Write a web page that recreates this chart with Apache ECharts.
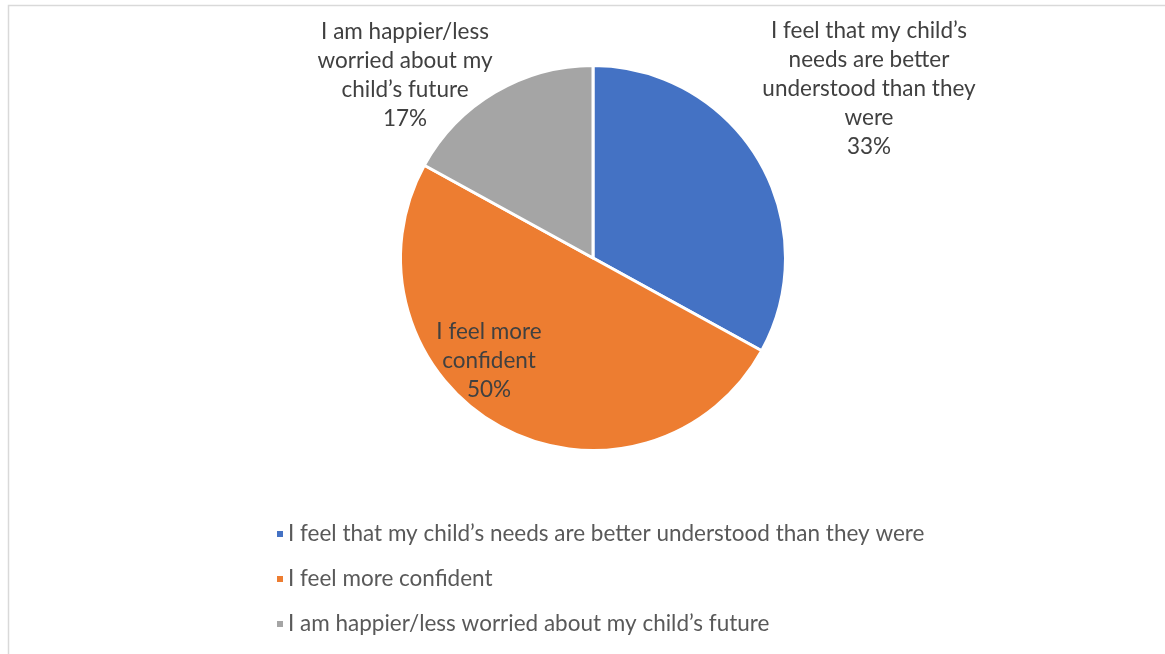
<!DOCTYPE html>
<html>
<head>
<meta charset="utf-8">
<script src="https://cdn.jsdelivr.net/npm/echarts@6/dist/echarts.min.js"></script>
<style>
  html, body { margin: 0; padding: 0; background: #fff; }
  #chart { width: 1165px; height: 654px; }
</style>
</head>
<body>
<div id="chart"></div>
<script>
// Survey responses (share of parents, %)
const categories = [
  'I feel that my child\u2019s needs are better understood than they were',
  'I feel more confident',
  'I am happier/less worried about my child\u2019s future'
];
const values = [33, 50, 17];
// Wrapped text used for the slice labels
const sliceLabels = [
  'I feel that my child\u2019s\nneeds are better\nunderstood than they\nwere',
  'I feel more\nconfident',
  'I am happier/less\nworried about my\nchild\u2019s future'
];
const colors = ['#4472C4', '#ED7D31', '#A5A5A5'];

const FONT = 'Lato';
const FONT_SIZE = 22.5;
// Label anchor points (centre of each text block)
const labelSpots = [
  { x: 869, y: 89 },
  { x: 489, y: 361 },
  { x: 405, y: 75 }
];

const chart = echarts.init(document.getElementById('chart'), null, { renderer: 'canvas' });
chart.setOption({
  animation: false,
  color: colors,
  graphic: [{
    type: 'rect',
    shape: { x: 8.5, y: 5.5, width: 1170, height: 660 },
    style: { fill: 'none', stroke: '#D9D9D9', lineWidth: 1.5 },
    silent: true
  }],
  legend: {
    orient: 'vertical',
    left: 270,
    top: 517,
    itemWidth: 8,
    itemHeight: 8,
    itemGap: 21,
    icon: 'rect',
    textStyle: { fontFamily: FONT, fontSize: FONT_SIZE, color: '#595959', lineHeight: 24, padding: [0, 0, 0, -1] },
    data: categories
  },
  series: [{
    type: 'pie',
    center: [593, 258],
    radius: 192.5,
    startAngle: 90,
    clockwise: true,
    itemStyle: { borderColor: '#fff', borderWidth: 3 },
    label: {
      show: true,
      position: 'outside',
      fontFamily: FONT,
      fontSize: FONT_SIZE,
      lineHeight: 29,
      color: '#404040',
      align: 'center',
      formatter: p => sliceLabels[p.dataIndex] + '\n' + p.percent.toFixed(0) + '%'
    },
    labelLine: { show: false },
    labelLayout: p => ({
      x: labelSpots[p.dataIndex].x,
      y: labelSpots[p.dataIndex].y,
      align: 'center',
      verticalAlign: 'middle'
    }),
    data: categories.map((c, i) => ({ name: c, value: values[i] }))
  }]
});
</script>
</body>
</html>
